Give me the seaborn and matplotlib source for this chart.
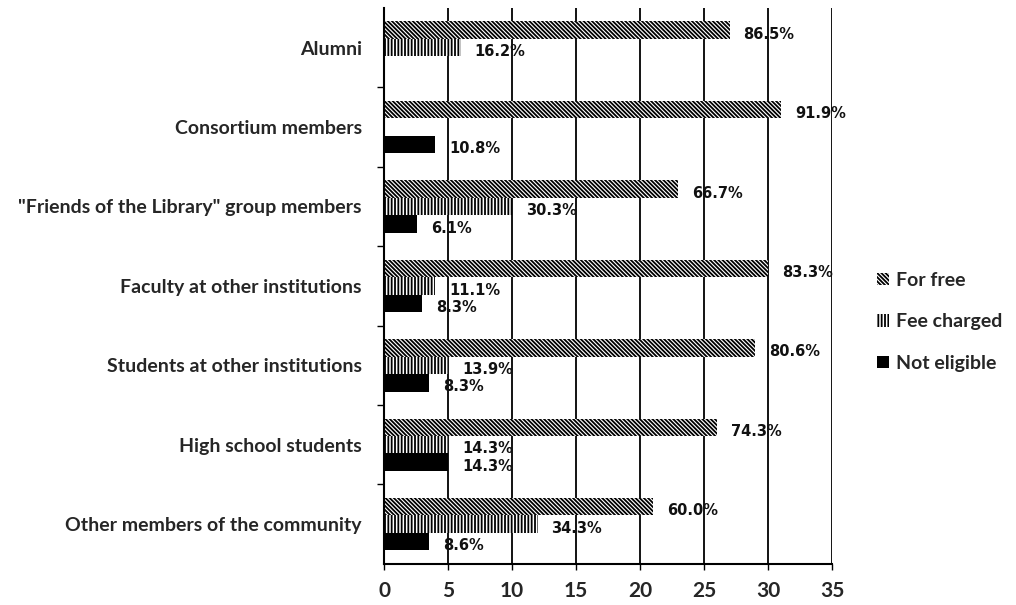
import pandas as pd
import matplotlib
matplotlib.use("Agg")
import matplotlib.pyplot as plt
import seaborn as sns

categories = ["Alumni", "Consortium members", "\"Friends of the Library\" group members",
              "Faculty at other institutions", "Students at other institutions",
              "High school students", "Other members of the community"]
series_names = ["For free", "Fee charged", "Not eligible"]

free_counts = [27, 31, 23, 30, 29, 26, 21]
fee_counts = [6, 0, 10, 4, 5, 5, 12]
not_counts = [0, 4, 2.6, 3, 3.5, 5, 3.5]

free_pct = ["86.5%", "91.9%", "66.7%", "83.3%", "80.6%", "74.3%", "60.0%"]
fee_pct = ["16.2%", "", "30.3%", "11.1%", "13.9%", "14.3%", "34.3%"]
not_pct = ["", "10.8%", "6.1%", "8.3%", "8.3%", "14.3%", "8.6%"]

x_ticks = [0, 5, 10, 15, 20, 25, 30, 35]

df = pd.concat([
    pd.DataFrame({"category": categories, "value": free_counts, "series": series_names[0]}),
    pd.DataFrame({"category": categories, "value": fee_counts, "series": series_names[1]}),
    pd.DataFrame({"category": categories, "value": not_counts, "series": series_names[2]}),
])

sns.set_style("white")
plt.rcParams["hatch.linewidth"] = 1.3

fig = plt.figure(figsize=(10.16, 6.05), dpi=100)
ax = fig.add_axes([0.378, 0.068, 0.441, 0.919])

sns.barplot(data=df, y="category", x="value", hue="series", orient="h",
            palette=["white", "white", "black"], saturation=1, width=0.66,
            edgecolor="black", linewidth=0, legend=False, ax=ax)

hatches = ["\\" * 8, "|" * 5, ""]
pct_lists = [free_pct, fee_pct, not_pct]
for cont, h, pcts in zip(ax.containers, hatches, pct_lists):
    for p in cont:
        p.set_hatch(h)
        p.set_edgecolor("black")
        p.set_linewidth(0)
    texts = ax.bar_label(cont, labels=pcts, padding=10, fontsize=10.5,
                         fontweight="bold", family="DejaVu Sans", color="#111111")
    for t in texts:
        t.xyann = (t.xyann[0], -3)

ax.set_xlim(0, 35)
ax.set_xticks(x_ticks)
ax.set_xticklabels([str(v) for v in x_ticks], fontsize=15, fontweight="bold", family="Lato")
ax.set_yticklabels(categories, fontsize=14, fontweight="bold", family="Lato")
ax.set_yticks([i + 0.5 for i in range(len(categories) - 1)], minor=True)
ax.tick_params(axis="y", which="major", length=0, pad=16)
ax.tick_params(axis="y", which="minor", length=5, width=1, color="black", direction="out", left=True)
ax.tick_params(axis="x", which="major", length=4, width=1, color="black", direction="out", bottom=True, pad=8)

ax.grid(axis="x", color="black", linewidth=1.3)
ax.grid(axis="y", visible=False)
ax.set_axisbelow(True)
ax.set_xlabel("")
ax.set_ylabel("")
for side in ["top", "right"]:
    ax.spines[side].set_visible(False)
for side in ["left", "bottom"]:
    ax.spines[side].set_color("black")
    ax.spines[side].set_linewidth(1.5)

fig.legend(ax.containers, series_names, loc="center left", bbox_to_anchor=(0.846, 0.468),
           frameon=False, prop={"weight": "bold", "size": 14, "family": "Lato"},
           handlelength=0.6, handleheight=0.6, labelspacing=1.25, handletextpad=0.4)

fig.savefig("out.png", dpi=100)
